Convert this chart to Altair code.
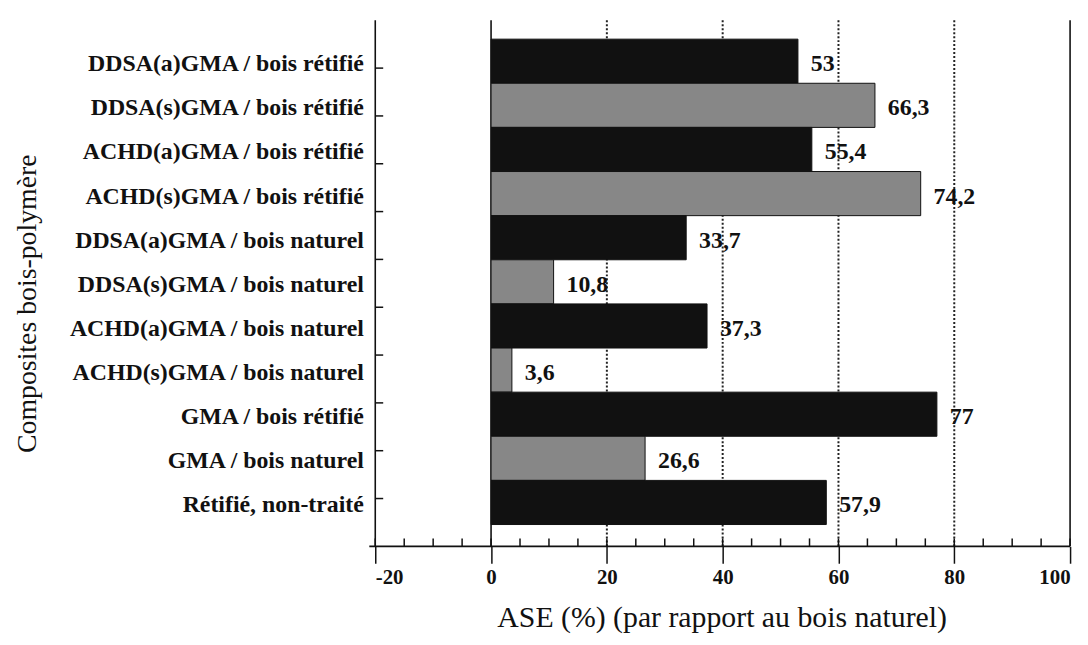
import altair as alt
import pandas as pd

categories = [
    "DDSA(a)GMA / bois rétifié",
    "DDSA(s)GMA / bois rétifié",
    "ACHD(a)GMA / bois rétifié",
    "ACHD(s)GMA / bois rétifié",
    "DDSA(a)GMA / bois naturel",
    "DDSA(s)GMA / bois naturel",
    "ACHD(a)GMA / bois naturel",
    "ACHD(s)GMA / bois naturel",
    "GMA / bois rétifié",
    "GMA / bois naturel",
    "Rétifié, non-traité",
]
values = [53, 66.3, 55.4, 74.2, 33.7, 10.8, 37.3, 3.6, 77, 26.6, 57.9]
value_labels = ["53", "66,3", "55,4", "74,2", "33,7", "10,8", "37,3", "3,6", "77", "26,6", "57,9"]
fill_kind = ["noir", "trame", "noir", "trame", "noir", "trame", "noir", "trame", "noir", "trame", "noir"]

x_major = [-20, 0, 20, 40, 60, 80, 100]
x_minor = [-20, -15, -10, -5, 0, 5, 10, 15, 20, 25, 30, 35, 40, 45, 50, 55, 60,
           65, 70, 75, 80, 85, 90, 95, 100]
grid_dotted = [20, 40, 60, 80]
frame_solid = [-20, 0, 100]
y_tick_pos = [1, 2, 3, 4, 5, 6, 7, 8, 9, 10]

W, H = 700, 530
FONT = "Liberation Serif"

df = pd.DataFrame({"cat": categories, "val": values, "lab": value_labels, "kind": fill_kind})
df_grid = pd.DataFrame({"val": grid_dotted})
df_frame = pd.DataFrame({"val": frame_solid})
df_minor = pd.DataFrame({"val": x_minor})
df_ytick = pd.DataFrame({"t": y_tick_pos})
df_one = pd.DataFrame({"val": [0]})

xscale = alt.Scale(domain=[-20, 100], nice=False, zero=False)
xaxis = alt.Axis(
    values=x_major, tickSize=17, tickWidth=1.5, tickColor="#111", domain=False, grid=False,
    labelFont=FONT, labelFontSize=21, labelFontWeight="bold", labelColor="#111", labelPadding=3,
    labelExpr="replace(datum.label, '\u2212', '-')",
    title="ASE (%) (par rapport au bois naturel)", titleFont=FONT, titleFontSize=30,
    titleFontWeight="normal", titleColor="#111", titleX=349, titleY=72, titleBaseline="middle",
    titleAlign="center",
)
X = alt.X("val:Q", scale=xscale, axis=xaxis)

yscale = alt.Scale(range=[19, 508], paddingInner=0, paddingOuter=0)
yaxis = alt.Axis(
    ticks=False, domain=False, labelFont=FONT, labelFontSize=24, labelFontWeight="bold",
    labelColor="#111", labelPadding=12, labelLimit=0, labelOffset=3,
    title="Composites bois-polymère", titleFont=FONT,
    titleFontSize=28, titleFontWeight="normal", titleColor="#111", titleX=-350, titleY=285,
    titleAlign="center", titleBaseline="middle",
)
Y = alt.Y("cat:N", sort=categories, scale=yscale, axis=yaxis)
Y_noaxis = alt.Y("cat:N", sort=categories, scale=yscale, axis=None)

grid = alt.Chart(df_grid).mark_rule(strokeDash=[2, 2], strokeWidth=2, color="#222").encode(
    x=X, y=alt.value(0), y2=alt.value(H)
)
frame = alt.Chart(df_frame).mark_rule(strokeWidth=1.6, color="#111").encode(
    x=X, y=alt.value(0), y2=alt.value(H)
)
minor = alt.Chart(df_minor).mark_rule(strokeWidth=1.5, color="#111").encode(
    x=X, y=alt.value(H - 8), y2=alt.value(H)
)
xline = alt.Chart(df_one).mark_rule(strokeWidth=1.6, color="#111").encode(
    x=alt.value(-6), x2=alt.value(W), y=alt.value(H)
)
bars = alt.Chart(df).mark_bar(stroke="#111", strokeWidth=1).encode(
    y=Y,
    x=X,
    x2=alt.datum(0),
    color=alt.Color("kind:N", scale=alt.Scale(domain=["noir", "trame"], range=["#111111", "#878787"]), legend=None),
)
labels = alt.Chart(df).mark_text(
    align="left", baseline="middle", dx=13, dy=3, font=FONT, fontSize=24, fontWeight="bold", color="#111"
).encode(y=Y_noaxis, x=X, text="lab:N")

yticks = alt.Chart(df_ytick).mark_rule(strokeWidth=1.5, color="#111").encode(
    y=alt.Y("t:Q", scale=alt.Scale(domain=[0, 11], nice=False), axis=None),
    x=alt.value(0), x2=alt.value(8),
)

chart = alt.layer(grid, frame, bars, labels, minor, xline, yticks).resolve_scale(
    y="independent"
).resolve_axis(y="independent").properties(
    width=W, height=H,
    autosize=alt.AutoSizeParams(type="none"),
    padding={"left": 370, "top": 10, "right": 10, "bottom": 97},
).configure_view(stroke=None)

chart.save("out.html", embed_options={"renderer": "svg", "actions": False})
